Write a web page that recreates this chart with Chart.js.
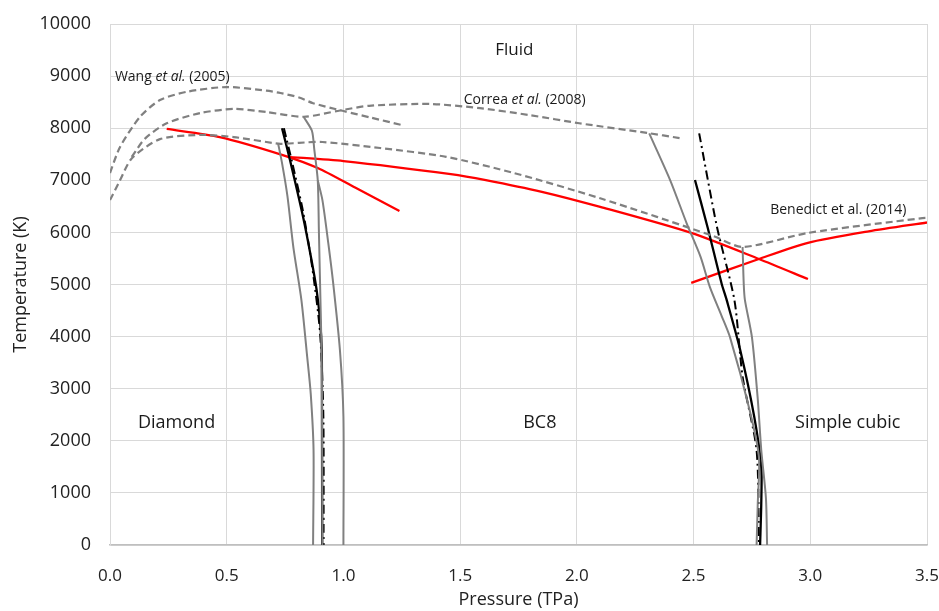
<!DOCTYPE html>
<html>
<head>
<meta charset="utf-8">
<script src="https://cdn.jsdelivr.net/npm/chart.js@4.4.1/dist/chart.umd.min.js"></script>
<style>
  html, body { margin: 0; padding: 0; background: #fff; overflow: hidden; }
  #wrap { width: 939px; height: 611px; position: relative; }
  canvas { display: block; }
</style>
</head>
<body>
<div id="wrap"><canvas id="phase-chart"></canvas></div>
<script>
// melting lines (dashed)
let wangP = [0, 0.043, 0.128, 0.214, 0.33, 0.5, 0.67, 0.73, 0.81, 0.87, 1.0, 1.12, 1.25];
let wangT = [7140, 7640, 8215, 8540, 8700, 8790, 8720, 8675, 8590, 8480, 8330, 8200, 8060];

let correaP = [0.093, 0.15, 0.243, 0.386, 0.53, 0.67, 0.83, 0.985, 1.11, 1.37, 1.585, 1.8, 2.01, 2.3, 2.44];
let correaT = [7450, 7800, 8095, 8290, 8370, 8310, 8220, 8340, 8430, 8465, 8385, 8250, 8095, 7910, 7810];

let benedictP = [0, 0.043, 0.093, 0.214, 0.386, 0.53, 0.73, 0.81, 0.91, 1.157, 1.44, 1.73, 2.1, 2.585, 2.71, 2.99, 3.48, 3.5];
let benedictT = [6620, 7000, 7420, 7790, 7870, 7830, 7700, 7720, 7735, 7620, 7450, 7140, 6655, 5930, 5720, 5990, 6275, 6280];

// red lines
let rojo1P = [0.243, 0.47, 0.74, 0.89, 1.05, 1.24];
let rojo1T = [7985, 7830, 7485, 7235, 6860, 6410];
let rojo2P = [0.76, 1.0, 1.46, 1.61, 1.85, 2.1, 2.49, 2.78, 2.99];
let rojo2T = [7450, 7370, 7120, 7005, 6780, 6490, 5990, 5490, 5105];
let rojo3P = [2.49, 2.78, 2.99, 3.25, 3.5];
let rojo3T = [5030, 5490, 5800, 6020, 6190];

// diamond / BC8 boundary
let grisIzqP = [0.72, 0.737, 0.76, 0.786, 0.82, 0.845, 0.86, 0.872, 0.87];
let grisIzqT = [7710, 7330, 6700, 5700, 4700, 3600, 2900, 1820, 0];
let grisMedP = [0.83, 0.865, 0.875, 0.89, 0.895, 0.9, 0.905, 0.908, 0.91];
let grisMedT = [8215, 7950, 7600, 7000, 6000, 5000, 4000, 3000, 0];
let grisDerP = [0.89, 0.91, 0.935, 0.956, 0.985, 1.0, 1.0];
let grisDerT = [7000, 6620, 5800, 5030, 3740, 2460, 0];
let negroIzqP = [0.737, 0.771, 0.827, 0.862, 0.885, 0.9, 0.907, 0.908, 0.909];
let negroIzqT = [8000, 7390, 6300, 5500, 4900, 4300, 3740, 2780, 0];
let puntoIzqP = [0.745, 0.78, 0.827, 0.866, 0.9, 0.914, 0.915];
let puntoIzqT = [8000, 7350, 6400, 5340, 4070, 2460, 0];

// BC8 / simple cubic boundary
let grisRLP = [2.31, 2.4, 2.47, 2.53, 2.57, 2.62, 2.656, 2.74, 2.78, 2.775, 2.77];
let grisRLT = [7900, 7000, 6180, 5530, 4950, 4400, 3990, 2590, 1690, 800, 0];
let grisRRP = [2.71, 2.715, 2.72, 2.75, 2.775, 2.79, 2.81, 2.815];
let grisRRT = [5720, 5000, 4700, 3990, 2800, 1820, 900, 0];
let negroDerP = [2.506, 2.56, 2.62, 2.642, 2.70, 2.76, 2.79, 2.79, 2.785];
let negroDerT = [7005, 6100, 5020, 4700, 3740, 2460, 1500, 800, 0];
let puntoDerP = [2.524, 2.6, 2.675, 2.71, 2.77, 2.78];
let puntoDerT = [7900, 6110, 4700, 3230, 1820, 0];

const xTicks = [0, 0.5, 1.0, 1.5, 2.0, 2.5, 3.0, 3.5];
const yTicks = [0, 1000, 2000, 3000, 4000, 5000, 6000, 7000, 8000, 9000, 10000];

const FONT = "'Open Sans', 'Noto Sans', sans-serif";

const puntos = (p, t) => p.map((v, i) => ({ x: v, y: t[i] }));

const linea = (p, t, color, ancho, dash) => ({
    data: puntos(p, t),
    showLine: true,
    borderColor: color,
    backgroundColor: color,
    borderWidth: ancho,
    borderDash: dash || [],
    pointRadius: 0,
    tension: 0.25,
    fill: false
});

const GRIS = '#808080';
const DASH = [7, 4];
const DASHDOT = [9, 4, 2, 4];

// text placed on the data coordinates; parts can be italic
const etiquetas = [
    { x: 0.021, y: 8980, size: 14, parts: [['Wang ', false], ['et al.', true], [' (2005)', false]] },
    { x: 1.515, y: 8540, size: 14, parts: [['Correa ', false], ['et al.', true], [' (2008)', false]] },
    { x: 2.828, y: 6430, size: 14, parts: [['Benedict et al. (2014)', false]] },
    { x: 1.65, y: 9490, size: 17, parts: [['Fluid', false]] },
    { x: 0.12, y: 2350, size: 18, parts: [['Diamond', false]] },
    { x: 1.77, y: 2350, size: 18, parts: [['BC8', false]] },
    { x: 2.935, y: 2350, size: 18, parts: [['Simple cubic', false]] }
];

const textoPlugin = {
    id: 'textoFases',
    afterDatasetsDraw(chart) {
        const ctx = chart.ctx;
        const sx = chart.scales.x, sy = chart.scales.y;
        ctx.save();
        ctx.fillStyle = '#1a1a1a';
        ctx.textBaseline = 'middle';
        ctx.textAlign = 'left';
        etiquetas.forEach(e => {
            let px = sx.getPixelForValue(e.x);
            const py = sy.getPixelForValue(e.y);
            e.parts.forEach(([txt, it]) => {
                ctx.font = (it ? 'italic ' : '') + e.size + 'px ' + FONT;
                ctx.fillText(txt, px, py);
                px += ctx.measureText(txt).width;
            });
        });
        ctx.restore();
    }
};

new Chart(document.getElementById('phase-chart'), {
    type: 'scatter',
    data: {
        datasets: [
            linea(wangP, wangT, GRIS, 2.2, DASH),
            linea(correaP, correaT, GRIS, 2.2, DASH),
            linea(benedictP, benedictT, GRIS, 2.2, DASH),
            linea(grisIzqP, grisIzqT, GRIS, 2),
            linea(grisMedP, grisMedT, GRIS, 2),
            linea(grisDerP, grisDerT, GRIS, 2),
            linea(grisRLP, grisRLT, GRIS, 2),
            linea(grisRRP, grisRRT, GRIS, 2),
            linea(negroIzqP, negroIzqT, '#000000', 2.3),
            linea(puntoIzqP, puntoIzqT, '#000000', 2, DASHDOT),
            linea(negroDerP, negroDerT, '#000000', 2.3),
            linea(puntoDerP, puntoDerT, '#000000', 2, DASHDOT),
            linea(rojo1P, rojo1T, '#ff0000', 2.3),
            linea(rojo2P, rojo2T, '#ff0000', 2.3),
            linea(rojo3P, rojo3T, '#ff0000', 2.3)
        ]
    },
    options: {
        responsive: true,
        maintainAspectRatio: false,
        animation: false,
        layout: { padding: { top: 24, right: 12, left: 4, bottom: 0 } },
        plugins: {
            legend: { display: false },
            tooltip: { enabled: false }
        },
        scales: {
            x: {
                type: 'linear',
                min: 0,
                max: 3.5,
                afterBuildTicks: s => { s.ticks = xTicks.map(v => ({ value: v })); },
                afterFit: s => {
                    s.height = 66;
                    s.paddingLeft = 0;
                    s.paddingRight = 0;
                },
                grid: { color: '#d9d9d9', lineWidth: 1, drawTicks: false },
                border: { color: '#bfbfbf', width: 1.5 },
                ticks: {
                    color: '#222',
                    padding: 21,
                    font: { family: FONT, size: 17 },
                    callback: v => Number(v).toFixed(1)
                },
                title: {
                    display: true,
                    text: 'Pressure (TPa)',
                    color: '#222',
                    font: { family: FONT, size: 18 },
                    padding: { top: 0, bottom: 0 }
                }
            },
            y: {
                type: 'linear',
                min: 0,
                max: 10000,
                afterBuildTicks: s => { s.ticks = yTicks.map(v => ({ value: v })); },
                afterFit: s => {
                    s.width = 106;
                    s.paddingTop = 0;
                    s.paddingBottom = 0;
                },
                grid: { color: '#d9d9d9', lineWidth: 1, drawTicks: false },
                border: { color: '#d9d9d9', width: 1 },
                ticks: {
                    color: '#222',
                    padding: 19,
                    font: { family: FONT, size: 18 },
                    callback: v => String(v)
                },
                title: {
                    display: true,
                    text: 'Temperature (K)',
                    color: '#222',
                    font: { family: FONT, size: 18 },
                    padding: { top: 6, bottom: 0 }
                }
            }
        }
    },
    plugins: [textoPlugin]
});
</script>
</body>
</html>
